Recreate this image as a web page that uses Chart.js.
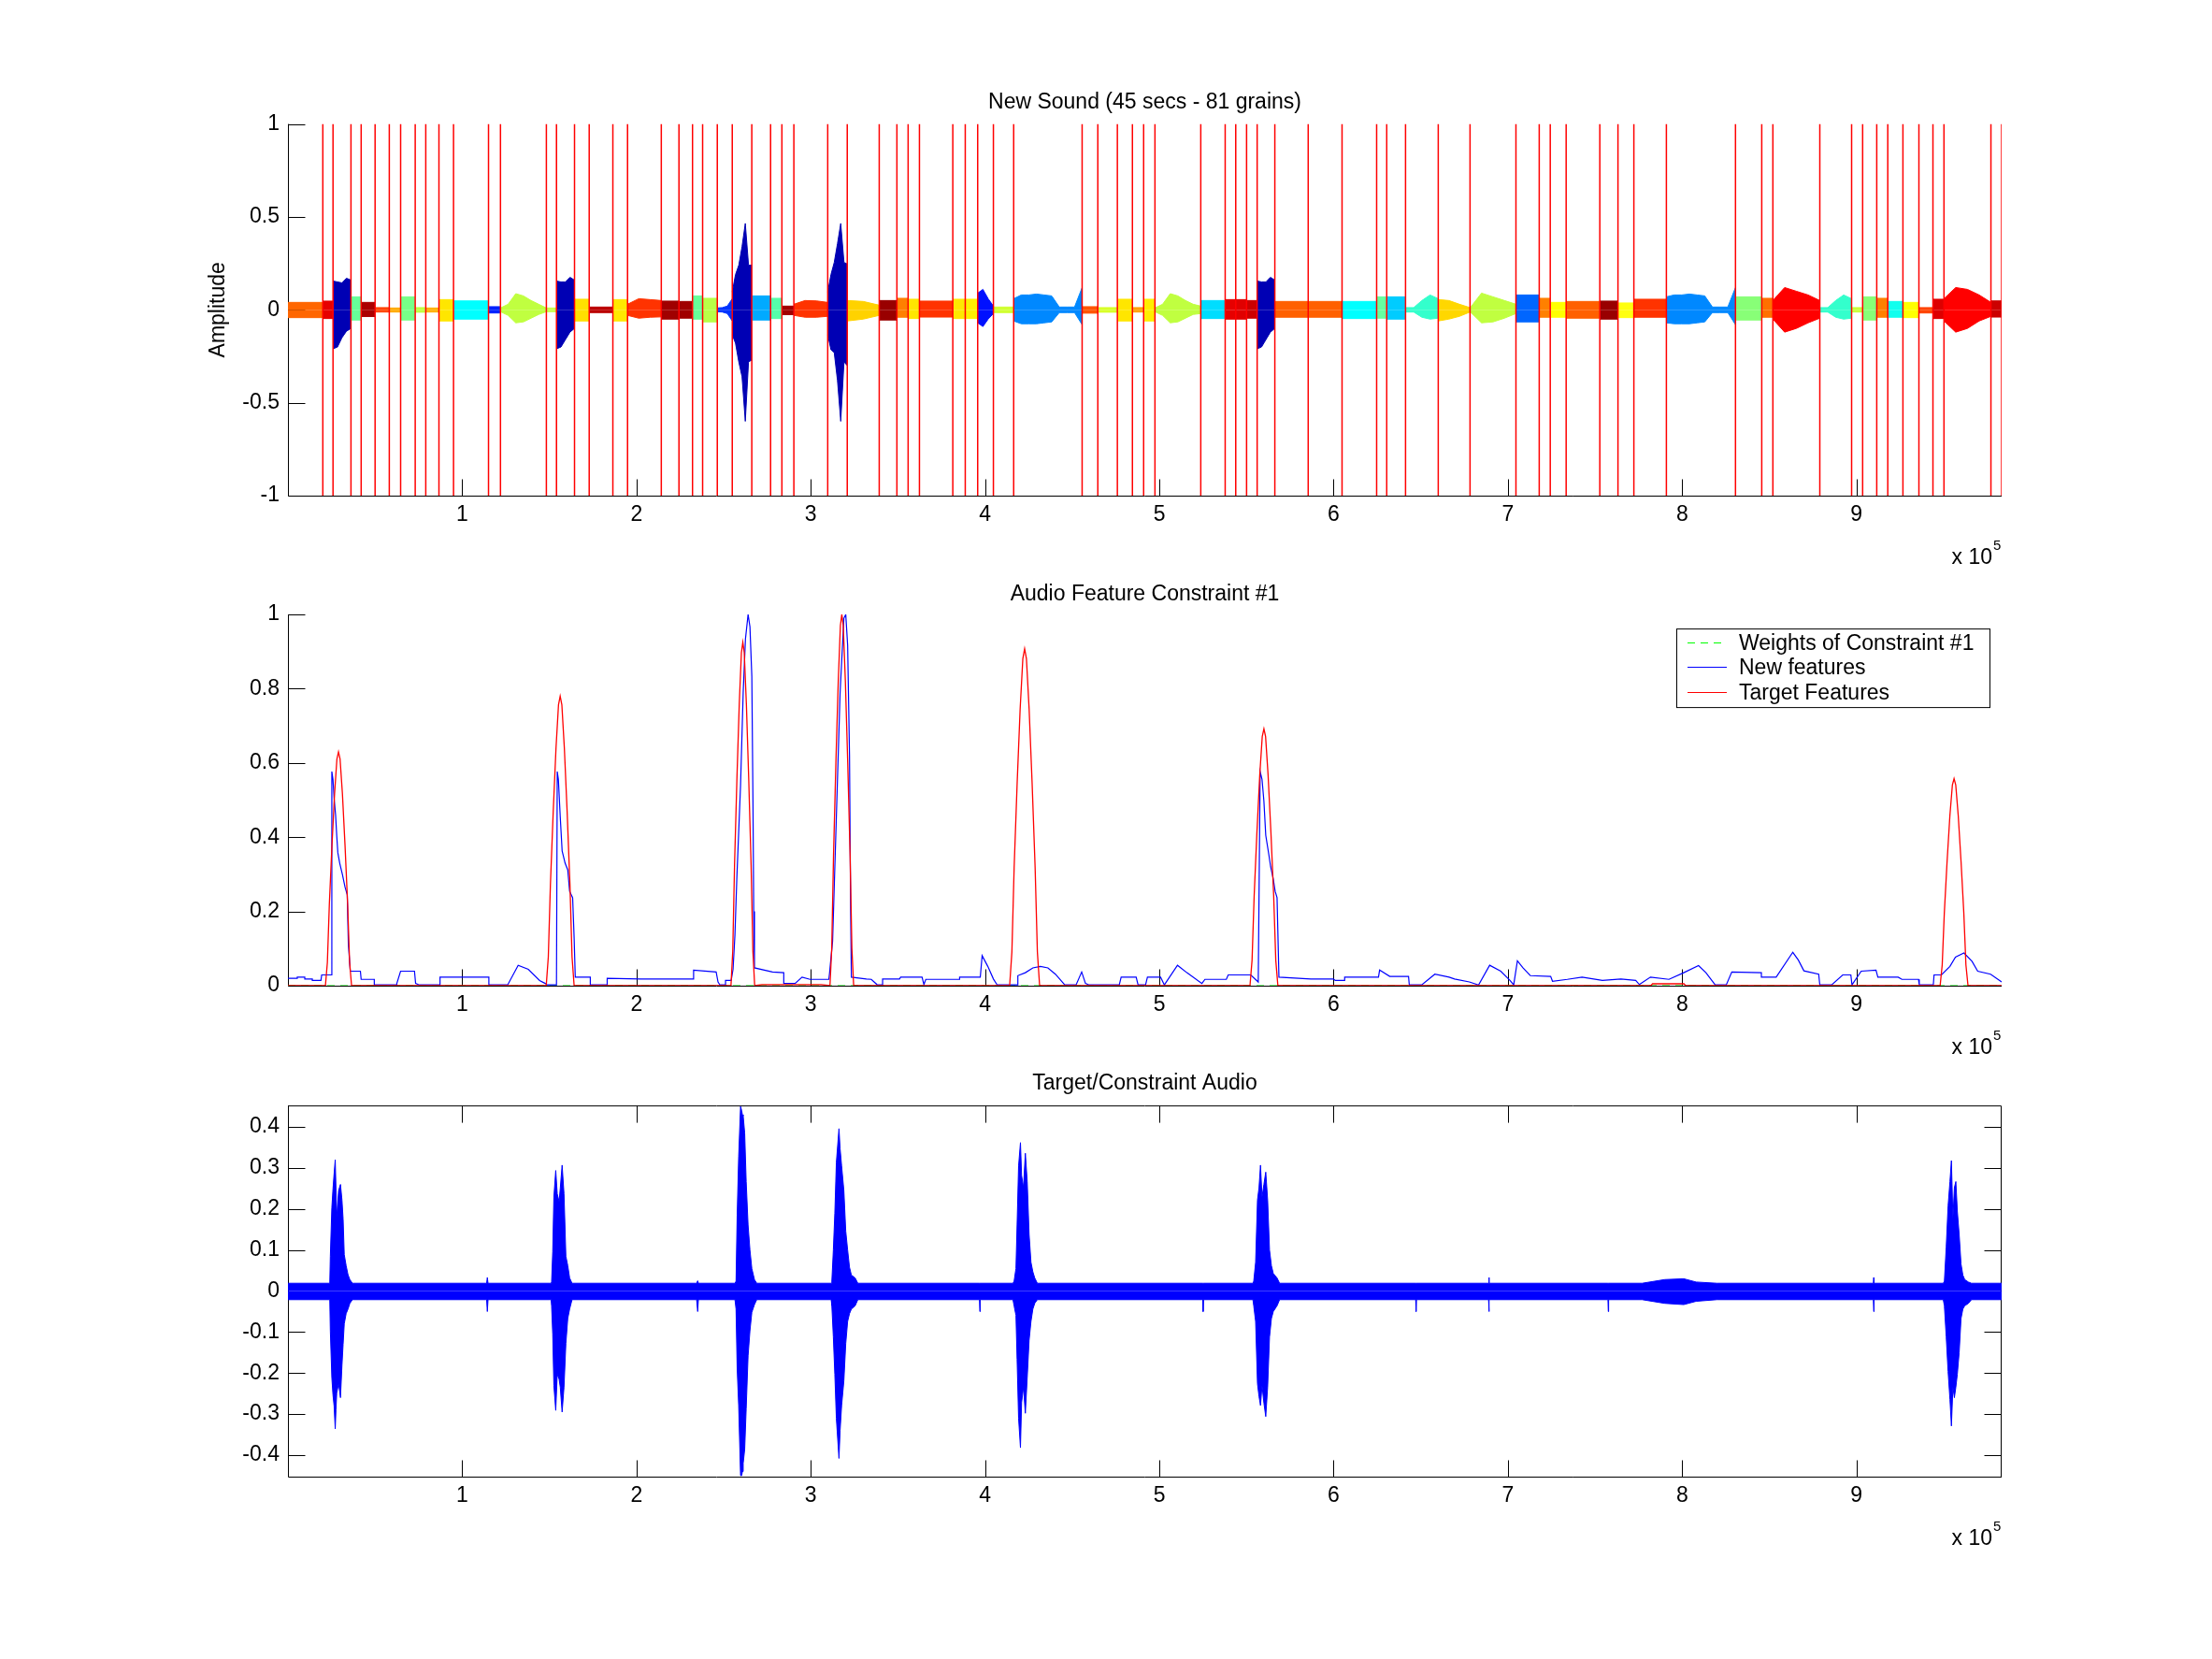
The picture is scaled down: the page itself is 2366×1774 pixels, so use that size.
<!DOCTYPE html>
<html>
<head>
<meta charset="utf-8">
<script src="https://cdn.jsdelivr.net/npm/chart.js@4.4.1/dist/chart.umd.min.js"></script>
<style>
  html, body { margin: 0; padding: 0; background: #fff; }
  body { width: 2366px; height: 1774px; position: relative; overflow: hidden; }
  canvas { position: absolute; left: 0; }
</style>
</head>
<body>
<canvas id="c1" width="2366" height="620" style="top:0px"></canvas>
<canvas id="c2" width="2366" height="560" style="top:590px"></canvas>
<canvas id="c3" width="2366" height="644" style="top:1130px"></canvas>
<script>
// ---- data (x in samples) ----
const xMax = 983300;
const xTicks = [100000, 200000, 300000, 400000, 500000, 600000, 700000, 800000, 900000];
const ampTicks = [-1, -0.5, 0, 0.5, 1];
const featTicks = [0, 0.2, 0.4, 0.6, 0.8, 1];
const audioTicks = [-0.4, -0.3, -0.2, -0.1, 0, 0.1, 0.2, 0.3, 0.4];

// red lines = end of each of the 81 grains
const grainEnds = [
  20010, 25860, 36160, 42010, 50000, 58150, 64650, 73020, 79080, 86640, 95010, 115080, 121940, 148280,
  154080, 164430, 172850, 186430, 194850, 214220, 224360, 232130, 237930, 246350, 254940, 266150,
  276930, 283420, 290290, 309710, 320920,
  339270, 349410, 355850, 362340, 381490, 388630, 395760, 404780, 416420, 455690, 464700, 475910,
  484550, 490990, 497480, 523770, 537770, 543830, 550050, 556120, 566260, 585410, 604830, 624680,
  630470, 641260, 660030,
  678270, 704610, 717970, 724300, 733420, 752740, 763150, 772270, 790930, 830580, 845650, 852040,
  878970, 897210, 903540, 911640, 917970, 926660, 935830, 943880, 950210, 977150, 983300
];
const grainColors = [
  '#ff6600', '#e60000', '#0000b4', '#66ff99', '#aa0000', '#ff4400', '#ffaa00', '#77ff88', '#c0ff40', '#ffb000',
  '#ffe600', '#00ffff', '#0022ff', '#c0ff40', '#c8ff48', '#0000b4', '#ffe000', '#bb0000', '#ffe800', '#ff3300',
  '#a00000', '#a00000', '#66ff99', '#b8ff48', '#0033ff', '#0000b4', '#00aaff', '#55ffaa', '#a00000', '#ff3300',
  '#0000b4', '#ffd200', '#990000', '#ff8000', '#ffe600', '#ff3300', '#ffe800', '#fff000', '#0010ff', '#d0ff30',
  '#0088ff', '#ff5500', '#d8ff28', '#ffe600', '#ffa000', '#ffee00', '#c0ff40', '#00ddff', '#e60000', '#e00000',
  '#cc0000', '#0000b4', '#ff6000', '#ff6000', '#00ffff', '#66ffa0', '#00ccff', '#33ffcc', '#ffd700', '#c0ff40',
  '#0066ff', '#ff8000', '#ffff00', '#ff6000', '#990000', '#ffff10', '#ff3300', '#0088ff', '#88ff77', '#ff7000',
  '#ff0000', '#33ffcc', '#c8ff38', '#88ff77', '#ff8000', '#11ffee', '#ffff00', '#ff4400', '#dd0000', '#ff0000',
  '#cc0000'
];
// upper / lower envelope of each grain (values spread evenly over the grain)
const grainHi = [
  [0.040], [0.047], [0.155, 0.15, 0.145, 0.17, 0.16], [0.07], [0.04], [0.012], [0.01], [0.07], [0.012], [0.01],
  [0.055], [0.048], [0.017], [0.01, 0.03, 0.087, 0.075, 0.05, 0.03, 0.01], [0.01], [0.155, 0.15, 0.15, 0.175, 0.16],
  [0.057], [0.015], [0.055], [0.03, 0.06, 0.055, 0.05], [0.047], [0.045], [0.075], [0.062], [0.01, 0.012, 0.02, 0.06],
  [0.096, 0.19, 0.24, 0.34, 0.465, 0.24, 0.24], [0.075], [0.062], [0.02], [0.03, 0.05, 0.048, 0.04],
  [0.096, 0.19, 0.255, 0.356, 0.465, 0.255, 0.247], [0.05, 0.045, 0.025], [0.05], [0.062], [0.057], [0.047],
  [0.057], [0.057], [0.09, 0.11, 0.06, 0.02], [0.015],
  [0.06, 0.08, 0.08, 0.085, 0.08, 0.075, 0.015, 0.015, 0.015, 0.12], [0.017], [0.012], [0.057], [0.012], [0.057],
  [0.01, 0.03, 0.087, 0.075, 0.05, 0.03, 0.02], [0.05], [0.055], [0.055], [0.05], [0.155, 0.15, 0.15, 0.175, 0.16],
  [0.045], [0.045], [0.045], [0.07], [0.07], [0.012, 0.012, 0.05, 0.08, 0.06], [0.055, 0.05, 0.03, 0.012],
  [0.01, 0.09, 0.07, 0.05, 0.03], [0.08], [0.062], [0.04], [0.045], [0.047], [0.037], [0.057],
  [0.07, 0.08, 0.08, 0.085, 0.08, 0.075, 0.015, 0.015, 0.015, 0.12], [0.07], [0.062], [0.05, 0.12, 0.1, 0.08, 0.05],
  [0.012, 0.012, 0.05, 0.08, 0.06], [0.012], [0.07], [0.062], [0.045], [0.04], [0.012], [0.057],
  [0.06, 0.12, 0.11, 0.08, 0.04], [0.048]
];
const grainLo = [
  [-0.042], [-0.047], [-0.21, -0.2, -0.15, -0.115, -0.1], [-0.055], [-0.036], [-0.012], [-0.012], [-0.055], [-0.013], [-0.012],
  [-0.06], [-0.05], [-0.017], [-0.01, -0.03, -0.07, -0.065, -0.045, -0.025, -0.01], [-0.01], [-0.21, -0.2, -0.16, -0.12, -0.1],
  [-0.06], [-0.015], [-0.06], [-0.03, -0.045, -0.04, -0.038], [-0.05], [-0.045], [-0.05], [-0.065], [-0.01, -0.012, -0.02, -0.06],
  [-0.134, -0.18, -0.28, -0.36, -0.6, -0.28, -0.27], [-0.055], [-0.047], [-0.026], [-0.03, -0.04, -0.04, -0.035],
  [-0.134, -0.215, -0.23, -0.38, -0.6, -0.28, -0.3], [-0.06, -0.05, -0.03], [-0.055], [-0.04], [-0.047], [-0.039],
  [-0.047], [-0.047], [-0.07, -0.09, -0.05, -0.02], [-0.015],
  [-0.06, -0.075, -0.075, -0.075, -0.07, -0.065, -0.015, -0.015, -0.015, -0.08], [-0.018], [-0.013], [-0.06], [-0.012], [-0.06],
  [-0.01, -0.03, -0.07, -0.065, -0.045, -0.025, -0.02], [-0.047], [-0.05], [-0.05], [-0.045], [-0.21, -0.2, -0.16, -0.12, -0.1],
  [-0.04], [-0.04], [-0.047], [-0.045], [-0.05], [-0.012, -0.012, -0.04, -0.05, -0.045], [-0.06, -0.05, -0.035, -0.012],
  [-0.01, -0.07, -0.065, -0.045, -0.02], [-0.065], [-0.04], [-0.04], [-0.045], [-0.05], [-0.042], [-0.04],
  [-0.07, -0.075, -0.075, -0.075, -0.07, -0.065, -0.015, -0.015, -0.015, -0.08], [-0.055], [-0.04], [-0.05, -0.12, -0.1, -0.07, -0.045],
  [-0.012, -0.012, -0.04, -0.05, -0.045], [-0.012], [-0.055], [-0.04], [-0.04], [-0.042], [-0.017], [-0.047],
  [-0.06, -0.12, -0.1, -0.06, -0.035], [-0.039]
];

// feature curves [x, value]
const weightsCurve = [[0, 0], [983300, 0]];
const newFeatures = [
  [0, 0.020], [5350, 0.020], [5350, 0.023], [9660, 0.023], [9660, 0.018], [13970, 0.018], [13970, 0.014], [18930, 0.014],
  [19360, 0.029], [24750, 0.029], [25180, 0.577], [25830, 0.556], [26480, 0.505], [27340, 0.460], [27980, 0.405],
  [28630, 0.358], [29710, 0.330], [31220, 0.300], [32730, 0.266], [34020, 0.245], [34670, 0.110], [35320, 0.070],
  [35750, 0.039], [41570, 0.039], [42000, 0.017], [49540, 0.017], [49540, 0.002], [62470, 0.002], [62470, 0.006],
  [64630, 0.039], [72600, 0.039], [73250, 0.006], [75410, 0.002], [87260, 0.002], [87260, 0.023], [115280, 0.023],
  [115280, 0.002], [126060, 0.002], [132100, 0.055], [137920, 0.044], [144390, 0.014], [147620, 0.006], [148700, 0.002],
  [154080, 0.002], [154520, 0.577], [155160, 0.556], [156240, 0.455], [157320, 0.363], [159040, 0.330], [160550, 0.312],
  [161630, 0.254], [163350, 0.237], [164210, 0.128], [164860, 0.023], [173480, 0.023], [173480, 0.002], [183180, 0.002],
  [183180, 0.020], [202580, 0.018], [232760, 0.018], [232760, 0.042], [245700, 0.037], [246770, 0.010], [247850, 0.002],
  [251080, 0.002], [251080, 0.014], [254320, 0.014], [255390, 0.044], [256470, 0.136], [257550, 0.287], [259700, 0.540],
  [261210, 0.790], [262510, 0.934], [264020, 1.000], [265090, 0.967], [266170, 0.833], [266820, 0.497], [267250, 0.200],
  [267680, 0.048], [278030, 0.037], [284490, 0.035], [284490, 0.006], [290960, 0.006], [295000, 0.023], [299580, 0.017],
  [310360, 0.017], [310790, 0.035], [312510, 0.120], [314670, 0.455], [316820, 0.790], [318980, 0.990], [320060, 1.000],
  [321140, 0.917], [322210, 0.623], [322860, 0.200], [323290, 0.023], [331910, 0.018], [334740, 0.017], [337970, 0.003],
  [341200, 0.002], [341200, 0.018], [350900, 0.018], [351550, 0.023], [363840, 0.023], [364910, 0.003], [365990, 0.017],
  [385390, 0.017], [385390, 0.023], [397250, 0.023], [398320, 0.081], [401560, 0.052], [404790, 0.018], [406950, 0.002],
  [418800, 0.002], [418800, 0.027], [423110, 0.035], [427420, 0.048], [431730, 0.052], [436050, 0.048], [440360, 0.031],
  [445740, 0.002], [452210, 0.002], [455440, 0.037], [457600, 0.006], [459760, 0.002], [477000, 0.002], [478080, 0.023],
  [486700, 0.023], [487780, 0.002], [492090, 0.002], [493160, 0.023], [500710, 0.023], [502870, 0.002], [510410, 0.055],
  [515800, 0.035], [524420, 0.006], [526150, 0.017], [538430, 0.017], [539510, 0.029], [552440, 0.029], [556750, 0.010],
  [557830, 0.577], [558910, 0.556], [559990, 0.497], [561060, 0.405], [562790, 0.354], [563870, 0.320], [565380, 0.287],
  [566450, 0.254], [567530, 0.237], [568610, 0.023], [586930, 0.018], [599860, 0.018], [600940, 0.014], [606330, 0.014],
  [606330, 0.023], [625730, 0.023], [626380, 0.042], [632200, 0.025], [642980, 0.025], [643410, 0.002], [650520, 0.002],
  [658070, 0.031], [666260, 0.023], [669380, 0.018], [677860, 0.010], [683160, 0.002], [689530, 0.055], [695890, 0.039],
  [701190, 0.014], [703320, 0.002], [705440, 0.067], [708620, 0.048], [712860, 0.027], [724530, 0.025], [725590, 0.012],
  [734070, 0.017], [742560, 0.023], [754230, 0.014], [764830, 0.018], [773320, 0.014], [775440, 0.003], [781800, 0.023],
  [792410, 0.017], [800890, 0.035], [809380, 0.054], [813620, 0.035], [818930, 0.002], [825290, 0.002], [828470, 0.037],
  [845440, 0.035], [845440, 0.023], [853930, 0.023], [863470, 0.090], [866650, 0.069], [869840, 0.040], [878320, 0.031],
  [878960, 0.002], [885750, 0.002], [892110, 0.029], [896780, 0.029], [897420, 0.002], [902720, 0.039], [911210, 0.042],
  [912270, 0.023], [923940, 0.023], [926060, 0.017], [935600, 0.017], [936030, 0.002], [944090, 0.002], [944520, 0.029],
  [948760, 0.029], [953630, 0.052], [956810, 0.077], [961690, 0.088], [966360, 0.065], [969550, 0.039], [976970, 0.031],
  [983300, 0.010]
];
const targetFeatures = [
  [0, 0],
  [21500, 0], [22625, 0.063], [23750, 0.22], [25250, 0.378], [26750, 0.517], [28100, 0.611], [29000, 0.63],
  [29900, 0.611], [31250, 0.517], [32750, 0.378], [34250, 0.22], [35375, 0.063], [36500, 0],
  [148200, 0], [149400, 0.078], [150600, 0.273], [152200, 0.468], [153800, 0.64], [155240, 0.757], [156200, 0.78],
  [157160, 0.757], [158600, 0.64], [160200, 0.468], [161800, 0.273], [163000, 0.078], [164200, 0],
  [254200, 0], [255220, 0.093], [256240, 0.324], [257600, 0.555], [258960, 0.759], [260180, 0.897], [261000, 0.925],
  [261820, 0.897], [263040, 0.759], [264400, 0.555], [265760, 0.324], [266780, 0.093], [267800, 0],
  [272000, 0.003], [306000, 0.003],
  [311000, 0], [312020, 0.1], [313040, 0.35], [314400, 0.6], [315760, 0.82], [316980, 0.97], [317800, 1],
  [318620, 0.97], [319840, 0.82], [321200, 0.6], [322560, 0.35], [323580, 0.1], [324600, 0],
  [414100, 0], [415390, 0.091], [416680, 0.318], [418400, 0.545], [420120, 0.745], [421670, 0.881], [422700, 0.908],
  [423730, 0.881], [425280, 0.745], [427000, 0.545], [428720, 0.318], [430010, 0.091], [431300, 0],
  [552000, 0], [553200, 0.069], [554400, 0.242], [556000, 0.415], [557600, 0.567], [559040, 0.671], [560000, 0.692],
  [560960, 0.671], [562400, 0.567], [564000, 0.415], [565600, 0.242], [566800, 0.069], [568000, 0],
  [782000, 0], [783000, 0.005], [801000, 0.005], [802000, 0],
  [948000, 0], [949200, 0.056], [950400, 0.195], [952000, 0.335], [953600, 0.458], [955040, 0.541], [956000, 0.558],
  [956960, 0.541], [958400, 0.458], [960000, 0.335], [961600, 0.195], [962800, 0.056], [964000, 0],
  [983300, 0]
];

// target audio envelope [x, upper, lower]
const audioEnvelope = [
  [0, 0.019, -0.021], [24000, 0.019, -0.021], [24320, 0.085, -0.097], [25180, 0.203, -0.211], [25830, 0.248, -0.253],
  [26480, 0.286, -0.28], [27130, 0.320, -0.336], [27550, 0.252, -0.29], [27980, 0.180, -0.249], [29060, 0.245, -0.226],
  [30140, 0.260, -0.260], [30990, 0.222, -0.181], [31650, 0.176, -0.13], [32300, 0.089, -0.08], [33380, 0.062, -0.055],
  [34450, 0.040, -0.044], [35530, 0.028, -0.03], [37000, 0.019, -0.021], [114000, 0.019, -0.021], [114400, 0.033, -0.05],
  [114800, 0.019, -0.021], [151000, 0.019, -0.021], [151280, 0.022, -0.036], [151930, 0.096, -0.105], [152580, 0.229, -0.230],
  [153650, 0.294, -0.291], [154520, 0.237, -0.203], [155590, 0.218, -0.215], [156240, 0.25, -0.234], [157320, 0.307, -0.295],
  [158400, 0.237, -0.234], [159470, 0.085, -0.128], [160550, 0.062, -0.067], [161630, 0.032, -0.044], [163000, 0.019, -0.021],
  [234500, 0.019, -0.021], [235100, 0.025, -0.05], [235500, 0.019, -0.021], [256500, 0.019, -0.021], [257110, 0.024, -0.044],
  [257760, 0.184, -0.188], [258620, 0.328, -0.279], [259700, 0.450, -0.450], [260340, 0.440, -0.450], [260770, 0.430, -0.440],
  [261210, 0.427, -0.420], [262070, 0.385, -0.386], [262930, 0.267, -0.287], [264020, 0.161, -0.158], [265090, 0.100, -0.097],
  [266170, 0.055, -0.052], [267680, 0.028, -0.033], [269000, 0.019, -0.021], [311700, 0.019, -0.021], [312080, 0.024, -0.036],
  [312940, 0.100, -0.112], [313800, 0.190, -0.203], [314670, 0.313, -0.310], [316170, 0.396, -0.408], [316820, 0.347, -0.340],
  [317690, 0.305, -0.279], [318980, 0.245, -0.219], [320060, 0.146, -0.128], [321140, 0.100, -0.074], [322210, 0.058, -0.055],
  [323290, 0.039, -0.044], [325450, 0.032, -0.036], [327000, 0.019, -0.021], [396800, 0.019, -0.021], [397000, 0.019, -0.05],
  [397200, 0.019, -0.021], [416000, 0.019, -0.021], [416650, 0.024, -0.036], [417720, 0.055, -0.059], [418370, 0.161, -0.166],
  [419230, 0.305, -0.310], [420310, 0.362, -0.382], [420960, 0.282, -0.272], [422030, 0.252, -0.234], [423110, 0.336, -0.298],
  [424190, 0.267, -0.211], [425270, 0.138, -0.120], [426340, 0.070, -0.074], [427420, 0.047, -0.044], [428500, 0.032, -0.030],
  [430000, 0.019, -0.021], [524900, 0.019, -0.021], [525100, 0.019, -0.05], [525300, 0.019, -0.021], [553700, 0.019, -0.021],
  [554160, 0.024, -0.036], [555240, 0.070, -0.074], [556310, 0.222, -0.226], [557180, 0.252, -0.257], [558040, 0.307, -0.279],
  [558910, 0.229, -0.230], [559990, 0.260, -0.273], [561060, 0.290, -0.306], [562140, 0.222, -0.234], [563220, 0.100, -0.112],
  [564300, 0.062, -0.067], [565380, 0.043, -0.050], [567530, 0.032, -0.036], [569000, 0.019, -0.021], [647100, 0.019, -0.021],
  [647300, 0.019, -0.05], [647500, 0.019, -0.021], [688900, 0.019, -0.021], [689100, 0.033, -0.05], [689300, 0.019, -0.021],
  [757400, 0.019, -0.021], [757600, 0.019, -0.05], [757800, 0.019, -0.021], [777000, 0.019, -0.021], [790000, 0.028, -0.030],
  [800900, 0.030, -0.033], [808000, 0.022, -0.025], [820000, 0.019, -0.021], [909700, 0.019, -0.021], [909900, 0.033, -0.05],
  [910100, 0.019, -0.021], [949800, 0.019, -0.021], [950450, 0.024, -0.036], [951510, 0.108, -0.112], [952570, 0.207, -0.196],
  [953630, 0.267, -0.264], [954480, 0.318, -0.329], [955330, 0.176, -0.234], [956180, 0.252, -0.260], [957030, 0.267, -0.234],
  [957870, 0.195, -0.203], [958930, 0.138, -0.150], [959990, 0.066, -0.067], [961050, 0.039, -0.044], [962110, 0.028, -0.036],
  [964230, 0.022, -0.030], [966000, 0.019, -0.021], [983300, 0.019, -0.021]
];

// ---- common look ----
const FONT = "'Liberation Sans', Arial, Helvetica, sans-serif";
Chart.defaults.font.family = FONT;
Chart.defaults.font.size = 23;
Chart.defaults.color = '#000';

// MATLAB style axes: inward ticks, optional box, "x 10^5" under the x axis
const matlabAxes = {
  id: 'matlabAxes',
  beforeDatasetsDraw(chart, args, opts) {
    const { ctx, chartArea: a } = chart;
    const xs = chart.scales.x, ys = chart.scales.y;
    const L = a.left + 0.5, R = a.right - 0.5, T = a.top + 0.5, B = a.bottom + 0.5, t = 18;
    ctx.save();
    ctx.strokeStyle = '#000';
    ctx.lineWidth = 1;
    ctx.beginPath();
    ctx.moveTo(L, a.top); ctx.lineTo(L, B); ctx.lineTo(a.right, B);
    if (opts.box) { ctx.moveTo(R, B); ctx.lineTo(R, T); ctx.lineTo(L, T); }
    xs.ticks.forEach(tk => {
      const px = Math.round(xs.getPixelForValue(tk.value)) + 0.5;
      ctx.moveTo(px, B); ctx.lineTo(px, B - t);
      if (opts.box) { ctx.moveTo(px, T); ctx.lineTo(px, T + t); }
    });
    ys.ticks.forEach(tk => {
      const py = Math.round(ys.getPixelForValue(tk.value)) + 0.5;
      ctx.moveTo(L, py); ctx.lineTo(L + t, py);
      if (opts.box) { ctx.moveTo(R, py); ctx.lineTo(R - t, py); }
    });
    ctx.stroke();
    ctx.restore();
  },
  afterDraw(chart) {
    const { ctx, chartArea: a } = chart;
    ctx.save();
    ctx.fillStyle = '#000';
    ctx.textBaseline = 'alphabetic';
    ctx.font = '23px ' + FONT;
    ctx.textAlign = 'right';
    ctx.fillText('x 10', a.right - 10, a.bottom + 73);
    ctx.font = '15px ' + FONT;
    ctx.textAlign = 'left';
    ctx.fillText('5', a.right - 9, a.bottom + 58);
    ctx.restore();
  }
};

const legendBox = {
  id: 'legendBox',
  afterDraw(chart) {
    const { ctx, chartArea: a } = chart;
    const w = 335, h = 84, left = a.right - 13 - w, top = a.top + 15;
    ctx.save();
    ctx.fillStyle = '#fff';
    ctx.fillRect(left, top, w, h);
    ctx.strokeStyle = '#000';
    ctx.lineWidth = 1;
    ctx.strokeRect(left + 0.5, top + 0.5, w, h);
    ctx.font = '23px ' + FONT;
    ctx.textBaseline = 'middle';
    ctx.textAlign = 'left';
    chart.data.datasets.slice().reverse().forEach((ds, i) => {
      const y = Math.round(top + 15 + i * 26.3) + 0.5;
      ctx.strokeStyle = ds.borderColor;
      ctx.lineWidth = 1.2;
      ctx.setLineDash(ds.borderDash || []);
      ctx.beginPath(); ctx.moveTo(left + 12, y); ctx.lineTo(left + 54, y); ctx.stroke();
      ctx.setLineDash([]);
      ctx.fillStyle = '#000';
      ctx.fillText(ds.label, left + 67, y + 1);
    });
    ctx.restore();
  }
};

function xScale(h) {
  return {
    type: 'linear', min: 0, max: xMax,
    afterBuildTicks: s => { s.ticks = xTicks.map(v => ({ value: v })); },
    afterFit: s => { s.height = h; },
    grid: { display: false, drawTicks: false },
    border: { display: false },
    ticks: { padding: 7, maxRotation: 0, autoSkip: false, callback: v => String(v / 1e5) }
  };
}
function yScale(min, max, ticks, title) {
  return {
    type: 'linear', min: min, max: max,
    afterBuildTicks: s => { s.ticks = ticks.map(v => ({ value: v })); },
    afterFit: s => { s.width = 308; },
    grid: { display: false, drawTicks: false },
    border: { display: false },
    ticks: { padding: 9, callback: v => String(v) },
    title: title ? { display: true, text: title, padding: { top: 220, bottom: 0 } } : { display: false }
  };
}
function baseOptions(titleText, titleTop, titleBottom, xh, y, box) {
  return {
    responsive: false, animation: false, events: [],
    layout: { padding: { left: 0, right: 225, top: 0, bottom: 0 } },
    elements: { point: { radius: 0 }, line: { tension: 0 } },
    plugins: {
      legend: { display: false },
      tooltip: { enabled: false },
      title: { display: true, text: titleText, fullSize: false, font: { size: 23, weight: 'normal' },
               padding: { top: titleTop, bottom: titleBottom } },
      matlabAxes: { box: box }
    },
    scales: { x: xScale(xh), y: y }
  };
}

// ---- chart 1: new sound, grain by grain ----
const grainStarts = [0].concat(grainEnds.slice(0, -1));
function grainEnvelope(i, vals) {
  const a = grainStarts[i], b = grainEnds[i];
  if (vals.length === 1) return [{ x: a, y: vals[0] }, { x: b, y: vals[0] }];
  return vals.map((v, k) => ({ x: a + (b - a) * k / (vals.length - 1), y: v }));
}
const boundaryData = [];
grainEnds.forEach(v => { boundaryData.push({ x: v, y: -1 }, { x: v, y: 1 }, { x: v, y: null }); });

const soundSets = [{
  data: boundaryData, borderColor: '#ff0000', borderWidth: 1.5, fill: false, spanGaps: false
}];
grainColors.forEach((c, i) => {
  soundSets.push({ data: grainEnvelope(i, grainHi[i]), borderColor: c, backgroundColor: c, borderWidth: 1, fill: 'origin' });
  soundSets.push({ data: grainEnvelope(i, grainLo[i]), borderColor: c, backgroundColor: c, borderWidth: 1, fill: 'origin' });
});

new Chart(document.getElementById('c1'), {
  type: 'line',
  data: { datasets: soundSets },
  options: baseOptions('New Sound (45 secs - 81 grains)', 96, 9, 90, yScale(-1, 1, ampTicks, 'Amplitude'), false),
  plugins: [matlabAxes]
});

// ---- chart 2: feature constraint ----
const toXY = arr => arr.map(p => ({ x: p[0], y: p[1] }));
new Chart(document.getElementById('c2'), {
  type: 'line',
  data: {
    datasets: [
      { label: 'Target Features', data: toXY(targetFeatures), borderColor: '#ff0000', borderWidth: 1.3, fill: false },
      { label: 'New features', data: toXY(newFeatures), borderColor: '#0000ff', borderWidth: 1.2, fill: false },
      { label: 'Weights of Constraint #1', data: toXY(weightsCurve), borderColor: '#00ff00', borderWidth: 1.2,
        borderDash: [8, 6], fill: false }
    ]
  },
  options: baseOptions('Audio Feature Constraint #1', 31.5, 8, 96, yScale(0, 1, featTicks, null), false),
  plugins: [matlabAxes, legendBox]
});

// ---- chart 3: target audio ----
new Chart(document.getElementById('c3'), {
  type: 'line',
  data: {
    datasets: [
      { data: audioEnvelope.map(p => ({ x: p[0], y: p[1] })), borderColor: '#0000ff', backgroundColor: '#0000ff',
        borderWidth: 1, fill: 'origin' },
      { data: audioEnvelope.map(p => ({ x: p[0], y: p[2] })), borderColor: '#0000ff', backgroundColor: '#0000ff',
        borderWidth: 1, fill: 'origin' }
    ]
  },
  options: baseOptions('Target/Constraint Audio', 15, 9.5, 195, yScale(-0.4525, 0.4525, audioTicks, null), true),
  plugins: [matlabAxes]
});
</script>
</body>
</html>
